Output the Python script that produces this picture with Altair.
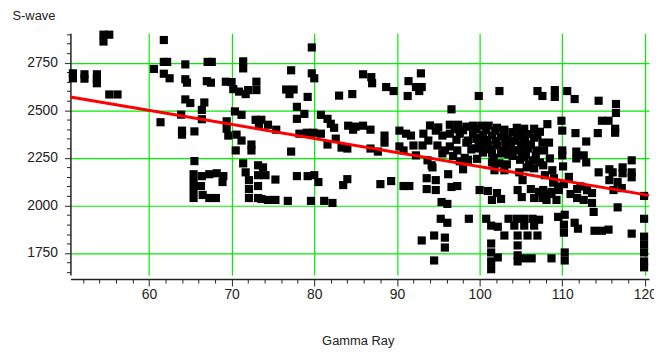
import altair as alt
import pandas as pd

# Gamma Ray (x) and S-wave (y) sample values
gamma_ray = [
    54.5, 55.2, 54.5, 50.8, 50.8, 52.2, 52.2, 53.7, 53.7, 53.7, 55.2, 56.2,
    60.6, 61.4, 61.8, 61.8, 62.2, 61.8, 62.5, 64.4, 67.1, 67.6, 64.4, 64.6,
    67.0, 67.5, 71.4, 71.4, 69.3, 70.0, 70.2, 70.9, 71.7, 72.0, 73.0, 73.0,
    64.4, 65.0, 66.7, 66.4, 66.4, 63.9, 64.0, 64.0, 65.5, 69.4, 69.4, 69.6,
    70.4, 71.2, 70.6, 71.2, 70.5, 72.4, 72.4, 72.9, 73.3, 65.5,
    65.4, 65.4, 65.4, 65.4, 66.4, 67.3, 68.2, 69.0, 68.9, 66.5, 67.3, 68.1, 66.3,
    71.4, 71.7, 72.1, 72.1, 72.1, 73.2, 73.2, 73.2, 73.2,
    79.7, 77.2, 79.7, 80.0, 76.6, 77.5, 77.0, 79.2, 83.0, 84.6, 77.9, 77.9,
    78.8, 80.8, 81.6, 82.0, 82.4, 84.1, 84.7, 73.6, 74.4, 75.4, 78.2, 79.1,
    79.9, 80.8, 81.6, 82.6, 83.3, 84.0, 77.2, 73.8, 74.1, 75.3, 77.9, 79.2,
    80.0, 80.5, 83.5, 84.0, 73.6, 74.4, 75.3, 76.8, 79.6, 81.2, 82.2,
    85.9, 86.9, 87.0, 88.7, 89.6, 91.4, 92.9, 92.3, 91.3, 93.0, 96.6, 85.0,
    85.9, 86.8, 88.5, 88.5, 86.8, 87.7, 90.3, 91.1, 90.3, 90.8, 91.7, 92.0,
    92.3, 93.2, 93.8, 93.1, 94.7, 95.5, 94.9, 95.8, 93.7, 94.2, 95.5, 93.6,
    94.7, 94.7, 93.6, 94.3, 88.0, 89.3, 90.8, 91.5, 95.4, 96.1, 95.3, 96.1,
    94.5, 93.0, 95.8, 95.8, 94.5, 92.7,
    99.9, 102.4, 107.0, 107.6, 109.1, 109.1, 110.6, 111.5, 114.4, 116.5, 116.5, 114.8,
    115.6, 116.4, 116.4, 114.3, 111.6, 112.9, 108.2, 109.9, 110.0, 111.7, 111.7, 110.0,
    110.0, 112.6, 112.9, 118.4, 114.4, 115.7, 116.1, 117.3, 117.3, 118.4, 118.4, 115.7,
    116.7, 117.2, 116.2, 119.9, 116.7, 111.8, 111.8, 112.6, 113.6, 113.6, 113.8, 107.7,
    108.7, 108.1, 109.5, 110.3, 110.2, 110.2, 111.5, 111.9, 113.9, 114.8, 115.6, 118.4,
    108.7, 110.3, 110.3, 119.9, 119.9, 119.9, 119.9, 119.9, 119.9, 110.1, 110.2, 107.6,
    108.4, 107.8, 108.5, 107.7, 107.9, 108.8, 109.0, 109.3, 109.6,
    96.4, 97.4, 98.4, 96.4, 97.6, 96.4, 97.3, 97.6, 98.0, 98.6, 99.0, 96.2,
    99.2, 100.2, 101.1, 102.1, 103.0, 99.2, 100.4, 101.5, 102.6, 103.4, 99.9, 101.0,
    102.1, 103.2, 100.4, 101.5, 102.6, 103.5,
    104.5, 105.4, 106.6, 107.3, 104.5, 105.4, 106.6, 105.0, 105.9, 106.9, 105.4, 106.4,
    107.3, 105.7, 106.6, 104.8, 105.2,
    101.5, 102.4, 103.3, 101.8, 103.0,
    96.6, 97.3, 100.0, 101.0, 102.1, 101.5, 102.6, 104.6, 105.1, 106.2, 107.2, 106.6, 107.6,
    98.7, 100.8, 101.4, 102.2, 103.0, 103.5, 104.5, 105.4, 106.4, 107.2, 104.2, 105.4,
    106.6, 105.8, 107.0, 101.4, 101.4, 101.4, 101.4, 102.2, 104.6, 104.6, 104.6, 104.6,
    105.4, 106.3,
    97.0, 98.0, 99.6, 100.8, 101.9, 103.0, 104.0, 105.0, 106.0, 107.0, 97.2, 98.4,
    99.6, 100.6, 103.8, 104.2, 96.8, 98.2, 99.4, 104.0, 105.6, 106.8, 94.0, 95.0,
    99.8, 100.9, 102.0, 103.1, 104.3, 105.5, 106.2, 100.2, 101.3, 102.8, 103.9, 105.1,
    98.6, 99.7, 101.7, 104.9, 106.0, 108.9, 109.5, 110.8, 111.0, 112.2, 113.0, 108.4,
]

s_wave = [
    2897, 2897, 2861, 2694, 2668, 2689, 2666, 2689, 2663, 2642, 2583, 2583,
    2717, 2437, 2869, 2754, 2754, 2692, 2668, 2741, 2754, 2754, 2663, 2645,
    2653, 2645, 2757, 2720, 2650, 2648, 2611, 2598, 2585, 2606, 2650, 2606,
    2557, 2538, 2541, 2502, 2453, 2477, 2393, 2372, 2389, 2442, 2403, 2367,
    2494, 2476, 2372, 2341, 2289, 2320, 2289, 2450, 2424, 2233,
    2164, 2123, 2081, 2039, 2154, 2164, 2169, 2154, 2123, 2055, 2039, 2039, 2102,
    2221, 2174, 2133, 2086, 2039, 2211, 2159, 2102, 2039,
    2830, 2710, 2694, 2668, 2609, 2609, 2585, 2570, 2577, 2585, 2518, 2455,
    2481, 2476, 2455, 2429, 2408, 2419, 2398, 2450, 2424, 2398, 2377, 2382,
    2382, 2377, 2320, 2351, 2304, 2299, 2283, 2200, 2159, 2136, 2154, 2154,
    2159, 2123, 2107, 2138, 2034, 2029, 2029, 2024, 2024, 2024, 2013,
    2689, 2674, 2642, 2622, 2601, 2653, 2694, 2622, 2575, 2622, 2505, 2414,
    2419, 2398, 2367, 2330, 2299, 2283, 2393, 2377, 2310, 2289, 2367, 2315,
    2263, 2377, 2341, 2315, 2393, 2367, 2315, 2289, 2237, 2211, 2273, 2143,
    2133, 2081, 2086, 2200, 2112, 2128, 2102, 2102, 2018, 2008, 1930, 1909,
    1842, 1816, 1831, 1779, 1711, 2601,
    2575, 2601, 2601, 2575, 2606, 2570, 2601, 2559, 2550, 2533, 2486, 2445,
    2445, 2403, 2382, 2380, 2380, 2336, 2427, 2445, 2393, 2283, 2247, 2289,
    2263, 2263, 2226, 2237, 2174, 2190, 2174, 2200, 2169, 2174, 2148, 2133,
    2123, 2091, 2081, 2050, 1990, 2086, 2039, 2029, 2065, 2013, 1966, 2081,
    2071, 2029, 1940, 1951, 1899, 1857, 1909, 1878, 1867, 1867, 1873, 1852,
    1722, 1753, 1711, 1930, 1836, 1795, 1753, 1706, 1675, 2205, 2112, 2330,
    2330, 2289, 2247, 2211, 2159, 2185, 2143, 2029, 2081,
    2424, 2424, 2414, 2377, 2377, 2310, 2289, 2232, 2190, 2341, 2294, 2164,
    2419, 2419, 2419, 2408, 2398, 2377, 2372, 2367, 2362, 2351, 2330, 2320,
    2315, 2310, 2278, 2273, 2273, 2268,
    2408, 2403, 2403, 2387, 2362, 2351, 2356, 2320, 2299, 2289, 2252, 2237,
    2226, 2200, 2195, 2174, 2133,
    2226, 2221, 2216, 2185, 2185,
    2097, 2102, 2081, 2076, 2065, 2029, 2034, 2081, 2044, 2086, 2071, 2039, 2039,
    1930, 1930, 1894, 1888, 1842, 1930, 1930, 1930, 1930, 1925, 1894, 1894,
    1894, 1842, 1842, 1800, 1753, 1706, 1665, 1727, 1842, 1790, 1738, 1706,
    1722, 1722,
    2400, 2395, 2400, 2395, 2390, 2385, 2385, 2380, 2375, 2370, 2345, 2330,
    2350, 2340, 2330, 2290, 2260, 2250, 2300, 2260, 2270, 2260, 2420, 2410,
    2355, 2345, 2340, 2335, 2340, 2335, 2320, 2300, 2295, 2290, 2285, 2280,
    2240, 2245, 2250, 2240, 2215, 2120, 2100, 2150, 2060, 2100, 2080, 2060,
]

# Fitted trend line (end points)
fit_x = [50.5, 120.5]
fit_y = [2570, 2053]

x_domain = [50.5, 120.5]
y_domain = [1634, 2904]
x_ticks = list(range(52, 121, 2))
y_ticks = list(range(1650, 2901, 50))

pts = pd.DataFrame({"Gamma Ray": gamma_ray, "S-wave": s_wave})
fit = pd.DataFrame({"Gamma Ray": fit_x, "S-wave": fit_y})

FONT = "Liberation Sans"
GRID = "#00ee00"
AX = "#222222"

x_axis = alt.Axis(
    values=x_ticks,
    tickCount=500,
    format="d",
    labelExpr="datum.value % 10 === 0 ? datum.label : ''",
    grid=True,
    gridColor=GRID,
    gridWidth=1.2,
    gridOpacity={"condition": {"test": "datum.value % 10 === 0", "value": 1}, "value": 0},
    tickSize={"condition": {"test": "datum.value % 10 === 0", "value": 7}, "value": 4},
    tickColor=AX,
    tickWidth=1,
    domainColor=AX,
    domainWidth=1.5,
    labelFont=FONT,
    labelFontSize=14,
    labelColor=AX,
    labelPadding=2,
    labelFlush=False,
    labelOverlap=False,
    offset=4,
    title="Gamma Ray",
    titleFont=FONT,
    titleFontSize=13,
    titleFontWeight="normal",
    titleColor=AX,
    titleAlign="center",
    titleBaseline="middle",
    titleX=290,
    titleY=62,
)

y_axis = alt.Axis(
    values=y_ticks,
    tickCount=500,
    format="d",
    labelExpr="datum.value % 250 === 0 ? datum.label : ''",
    grid=True,
    gridColor=GRID,
    gridWidth=1.2,
    gridOpacity={"condition": {"test": "datum.value % 250 === 0", "value": 1}, "value": 0},
    tickSize={"condition": {"test": "datum.value % 250 === 0", "value": 6}, "value": 4},
    tickColor=AX,
    tickWidth=1,
    domainColor=AX,
    domainWidth=1.5,
    labelFont=FONT,
    labelFontSize=14,
    labelColor=AX,
    labelPadding=7,
    labelOverlap=False,
    title="S-wave",
    titleFont=FONT,
    titleFontSize=13,
    titleFontWeight="normal",
    titleColor=AX,
    titleAngle=0,
    titleAlign="left",
    titleBaseline="middle",
    titleX=-59,
    titleY=-18,
)

x_enc = alt.X("Gamma Ray:Q", scale=alt.Scale(domain=x_domain, nice=False, zero=False), axis=x_axis)
y_enc = alt.Y("S-wave:Q", scale=alt.Scale(domain=y_domain, nice=False, zero=False), axis=y_axis)

points = alt.Chart(pts).mark_square(size=68, color="black", opacity=1, filled=True).encode(
    x=x_enc, y=y_enc
)

line = alt.Chart(fit).mark_line(color="#ff0000", strokeWidth=3).encode(
    x="Gamma Ray:Q", y="S-wave:Q"
)

chart = (
    alt.layer(points, line)
    .properties(
        width=584,
        height=244,
        autosize=alt.AutoSizeParams(type="none"),
        padding={"left": 63, "top": 24, "right": 5, "bottom": 76},
        background="white",
    )
    .configure_view(stroke=None)
)

chart.save("out.html", embed_options={"renderer": "svg", "actions": False})
